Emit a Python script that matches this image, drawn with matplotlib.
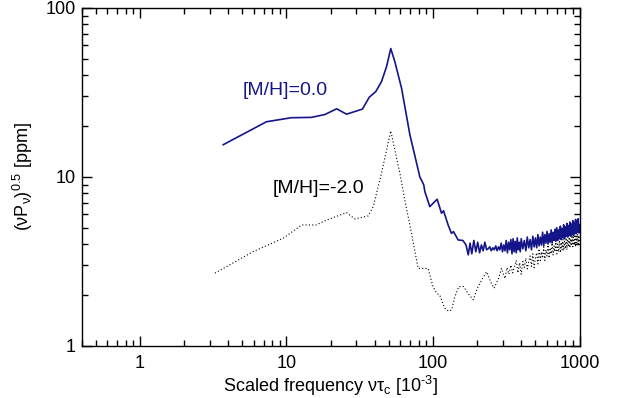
import matplotlib.pyplot as plt
from matplotlib.ticker import FuncFormatter, LogLocator, NullFormatter

plt.rcParams['font.family'] = 'Liberation Sans'
plt.rcParams['mathtext.fontset'] = 'custom'
plt.rcParams['mathtext.rm'] = 'Liberation Sans'
plt.rcParams['mathtext.it'] = 'Liberation Sans:italic'

# [M/H]=0.0 spectrum (scaled frequency, amplitude in ppm)
freq_solar = [3.7, 7.3, 10.8, 14.8, 18.3, 22.0, 25.7, 33.0, 36.7, 40.7,
              44.5, 48.2, 51.5, 54.9, 61.0, 69.5, 81.3, 86.5, 88.0, 95.1,
              106.7, 114.3, 118.0, 126.8, 133.6, 138.0, 148.4, 160.0,
              168, 174, 179, 184, 190, 196, 202, 208, 214, 220,
              226, 232, 238, 244, 250, 256, 262, 268, 274, 280,
              286, 292, 298, 304, 310, 316, 322, 328, 334, 340,
              346, 352, 358, 364, 370, 376, 382, 388, 394,
              400, 410, 420, 430, 440, 450, 460, 470, 480, 490,
              500, 510, 520, 530, 540, 550, 560, 570, 580, 590,
              600, 610, 620, 630, 640, 650, 660, 670, 680, 690,
              700, 710, 720, 730, 740, 750, 760, 770, 780, 790,
              800, 810, 820, 830, 840, 850, 860, 870, 880, 890,
              900, 910, 920, 930, 940, 950, 960, 970, 980, 990, 1000]
amp_solar = [15.5, 21.2, 22.4, 22.5, 23.4, 25.3, 23.5, 25.2, 29.6, 32.0,
             36.6, 45.0, 57.5, 48.1, 33.5, 17.8, 10.0, 8.96, 8.17, 6.66,
             7.37, 6.09, 6.3, 5.19, 4.63, 4.74, 4.23, 4.2,
             3.95, 3.45, 4.05, 3.5, 4.2, 3.6, 4.1, 3.55, 3.95, 3.65,
             4.1, 3.7, 3.75, 3.85, 3.65, 3.8, 3.7, 3.9, 3.65, 3.85,
             3.7, 4.05, 3.6, 3.95, 3.65, 4.2, 3.55, 4.1, 3.7, 4.25,
             3.5, 4.3, 3.6, 4.15, 3.55, 4.35, 3.7, 4.1, 3.6,
             4.3, 3.75, 4.2, 3.65, 4.4, 3.8, 4.25, 3.7, 4.45, 3.85,
             4.35, 3.8, 4.55, 3.9, 4.4, 3.95, 4.7, 3.9, 4.55, 4.05,
             4.75, 4.0, 4.6, 4.1, 4.85, 4.05, 4.7, 4.2, 4.9, 4.15,
             5.0, 4.2, 4.85, 4.3, 5.1, 4.25, 4.95, 4.35, 5.2, 4.3,
             5.05, 4.45, 5.3, 4.4, 5.15, 4.5, 5.4, 4.45, 5.25, 4.55,
             5.5, 4.5, 5.35, 4.65, 5.6, 4.6, 5.45, 4.7, 5.65, 4.65, 5.2]

# [M/H]=-2.0 spectrum
freq_poor = [3.25, 5.93, 9.5, 12.7, 16.0, 18.8, 25.7, 29.3, 36.1, 39.1,
             44.5, 51.5, 59.4, 64.2, 71.3, 79.2, 92.5, 100, 106, 111,
             120, 128, 134, 141, 150, 162, 170, 188, 203, 218,
             232, 250, 261, 280, 293,
             310, 320, 330, 340, 350, 360, 370, 380, 390, 400,
             410, 420, 430, 440, 450, 460, 470, 480, 490, 500,
             510, 520, 530, 540, 550, 560, 570, 580, 590, 600,
             610, 620, 630, 640, 650, 660, 670, 680, 690, 700,
             710, 720, 730, 740, 750, 760, 770, 780, 790, 800,
             810, 820, 830, 840, 850, 860, 870, 880, 890, 900,
             910, 920, 930, 940, 950, 960, 970, 980, 990, 1000]
amp_poor = [2.69, 3.61, 4.33, 5.19, 5.19, 5.55, 6.14, 5.63, 5.87, 6.66,
            10.5, 18.7, 10.5, 7.3, 4.63, 2.87, 2.87, 2.24, 2.04, 2.0,
            1.67, 1.6, 1.63, 1.95, 2.24, 2.24, 2.09, 1.87, 2.24, 2.5,
            2.74, 2.34, 2.19, 2.5, 2.87,
            2.5, 2.9, 2.65, 3.0, 2.7, 2.95, 3.2, 2.7, 3.1, 2.65,
            3.15, 2.9, 3.3, 2.85, 3.15, 3.4, 2.95, 3.5, 2.9, 3.3,
            3.55, 3.05, 3.75, 3.2, 3.6, 3.3, 3.85, 3.2, 3.7, 3.4,
            3.95, 3.3, 3.8, 3.5, 4.05, 3.45, 3.9, 3.6, 4.1, 3.5,
            4.0, 3.6, 4.2, 3.55, 4.1, 3.7, 4.25, 3.65, 4.15, 3.75,
            4.35, 3.7, 4.25, 3.85, 4.4, 3.8, 4.3, 3.9, 4.5, 3.85,
            4.4, 3.95, 4.55, 3.9, 4.45, 4.05, 4.6, 4.0, 4.5, 4.1]

navy = '#15158a'

fig = plt.figure(figsize=(6.22, 3.98), dpi=100)
ax = fig.add_axes([0.1313, 0.1314, 0.8004, 0.8485])

ax.plot(freq_solar, amp_solar, color=navy, lw=1.2)
ax.plot(freq_poor, amp_poor, color='black', lw=0.8, ls=(0, (1, 2)))

ax.set_xscale('log')
ax.set_yscale('log')
ax.set_xlim(0.4, 1000)
ax.set_ylim(1, 100)

fmt = FuncFormatter(lambda v, p: f"{v:g}")
for axis in (ax.xaxis, ax.yaxis):
    axis.set_major_locator(LogLocator(base=10, numticks=20))
    axis.set_minor_locator(LogLocator(base=10, subs=range(2, 10), numticks=20))
    axis.set_major_formatter(fmt)
    axis.set_minor_formatter(NullFormatter())

ax.tick_params(which='both', direction='in', top=True, right=True,
               labelsize=13, color='black')
ax.tick_params(which='major', length=7, width=1.0)
ax.tick_params(which='minor', length=4, width=1.0)
ax.tick_params(axis='x', pad=7)
ax.tick_params(axis='y', pad=4)
for s in ax.spines.values():
    s.set_linewidth(1.0)

ax.set_xlabel(r"Scaled frequency ντ$_\mathrm{c}$ [10$^\mathrm{‐3}$]", fontsize=13, labelpad=1)
ax.set_ylabel(r"(νP$_\mathrm{ν}$)$^\mathrm{0.5}$ [ppm]", fontsize=13, labelpad=8)

ax.text(5.04, 32.3, "[M/H]=0.0", color=navy, fontsize=14, ha='left', va='center')
ax.text(8.04, 8.56, "[M/H]=-2.0", color='black', fontsize=14, ha='left', va='center')

fig.savefig('out.png', dpi=100)
